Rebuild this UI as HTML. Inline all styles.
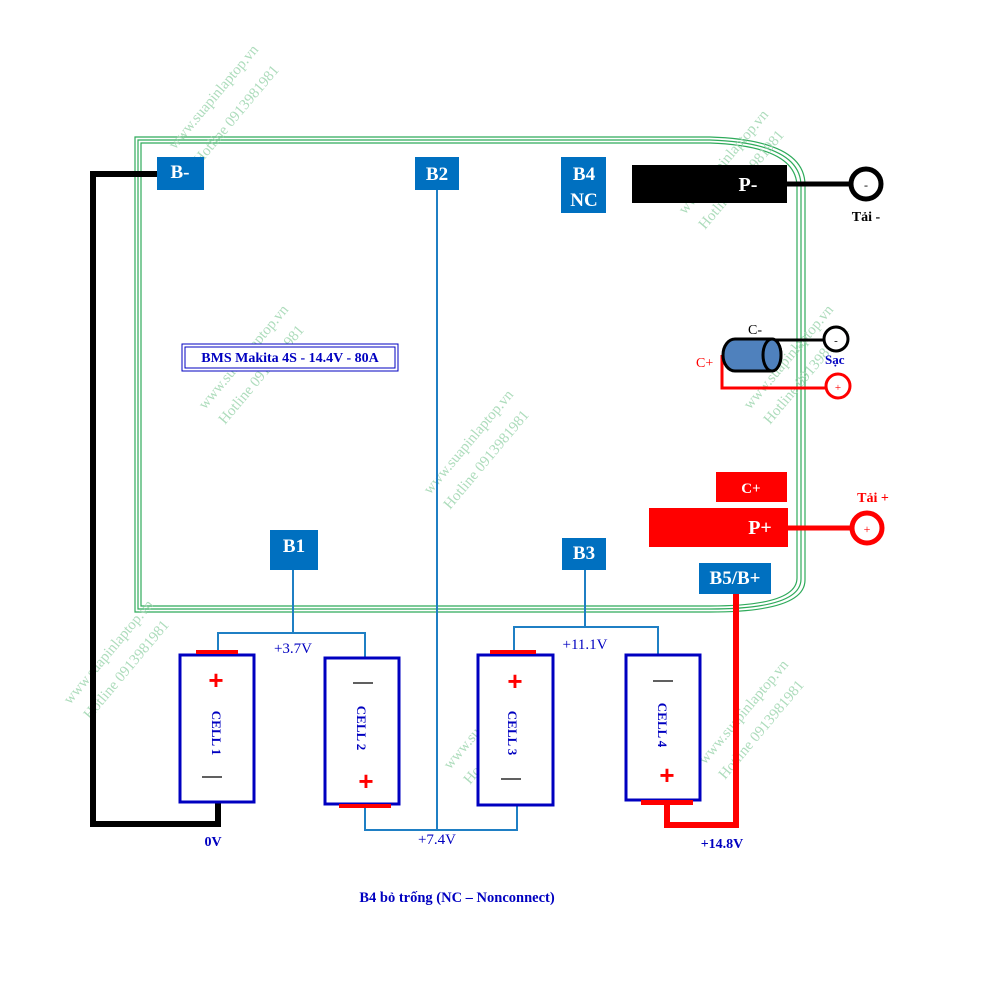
<!DOCTYPE html>
<html><head><meta charset="utf-8"><style>body{margin:0;background:#fff}svg{display:block}</style></head><body>
<svg width="1000" height="1000" viewBox="0 0 1000 1000" xmlns="http://www.w3.org/2000/svg" font-family="Liberation Serif, serif">
<rect width="1000" height="1000" fill="#fff"/>
<g fill="none" stroke="#2eaa5a" stroke-width="1.2">
<path d="M135,137 H710 Q805,140 805,185 V580 Q805,612 710,612 H135 Z"/>
<path d="M138,140 H710 Q801,143 801,186 V579 Q801,609 710,609 H138 Z"/>
<path d="M141,143 H710 Q797,146 797,187 V578 Q797,606 710,606 H141 Z"/>
</g>
<g fill="#9fd6b0" font-size="15" opacity="0.85">
<text transform="translate(175,150) rotate(-50)">www.suapinlaptop.vn</text>
<text transform="translate(200,165) rotate(-50)">Hotline 0913981981</text>
<text transform="translate(685,215) rotate(-50)">www.suapinlaptop.vn</text>
<text transform="translate(705,230) rotate(-50)">Hotline 0913981981</text>
<text transform="translate(205,410) rotate(-50)">www.suapinlaptop.vn</text>
<text transform="translate(225,425) rotate(-50)">Hotline 0913981981</text>
<text transform="translate(430,495) rotate(-50)">www.suapinlaptop.vn</text>
<text transform="translate(450,510) rotate(-50)">Hotline 0913981981</text>
<text transform="translate(750,410) rotate(-50)">www.suapinlaptop.vn</text>
<text transform="translate(770,425) rotate(-50)">Hotline 0913981981</text>
<text transform="translate(70,705) rotate(-50)">www.suapinlaptop.vn</text>
<text transform="translate(90,720) rotate(-50)">Hotline 0913981981</text>
<text transform="translate(450,770) rotate(-50)">www.suapinlaptop.vn</text>
<text transform="translate(470,785) rotate(-50)">Hotline 0913981981</text>
<text transform="translate(705,765) rotate(-50)">www.suapinlaptop.vn</text>
<text transform="translate(725,780) rotate(-50)">Hotline 0913981981</text>
</g>
<g stroke="#1f7fc4" stroke-width="2" fill="none">
<path d="M437,190 V830"/>
<path d="M293,570 V633 M218,651 V633 H365 V658"/>
<path d="M365,806 V830 H517 V805"/>
<path d="M585,570 V627 M514,651 V627 H658 V655"/>
</g>
<path d="M157,174 H93 V824 H218 V802" stroke="#000" stroke-width="6" fill="none"/>
<path d="M736,594 V825 H667 V802" stroke="#f00" stroke-width="6" fill="none"/>
<g fill="#0070c0">
<rect x="157" y="157" width="47" height="33"/>
<rect x="415" y="157" width="44" height="33"/>
<rect x="561" y="157" width="45" height="56"/>
<rect x="270" y="530" width="48" height="40"/>
<rect x="562" y="538" width="44" height="32"/>
<rect x="699" y="563" width="72" height="31"/>
</g>
<g fill="#fff" font-weight="bold" font-size="19" text-anchor="middle">
<text x="180" y="178">B-</text>
<text x="437" y="180">B2</text>
<text x="584" y="180">B4</text>
<text x="584" y="206">NC</text>
<text x="294" y="552">B1</text>
<text x="584" y="559">B3</text>
<text x="735" y="584">B5/B+</text>
</g>
<rect x="632" y="165" width="155" height="38" fill="#000"/>
<text x="748" y="191" fill="#fff" font-weight="bold" font-size="20" text-anchor="middle">P-</text>
<path d="M787,184 H851" stroke="#000" stroke-width="5"/>
<circle cx="866" cy="184" r="15" fill="#fff" stroke="#000" stroke-width="5"/>
<text x="866" y="189" font-size="12" text-anchor="middle">-</text>
<text x="866" y="221" font-size="14" font-weight="bold" text-anchor="middle">Tải -</text>
<rect x="182" y="344" width="216" height="27" fill="#fff" stroke="#0000c0" stroke-width="1"/>
<rect x="185" y="347" width="210" height="21" fill="none" stroke="#0000c0" stroke-width="1"/>
<text x="290" y="362" font-size="14" font-weight="bold" fill="#0000c0" text-anchor="middle">BMS Makita 4S - 14.4V - 80A</text>
<path d="M722,355 V388 H826" stroke="#f00" stroke-width="3" fill="none"/>
<path d="M770,340 H826" stroke="#000" stroke-width="3"/>
<path d="M735,339 H772 A9,16 0 0 1 772,371 H735 A12,16 0 0 1 735,339 Z" fill="#4f81bd" stroke="#000" stroke-width="3"/>
<ellipse cx="772" cy="355" rx="9" ry="16" fill="#4f81bd" stroke="#000" stroke-width="3"/>
<circle cx="836" cy="339" r="12" fill="#fff" stroke="#000" stroke-width="3"/>
<text x="836" y="344" font-size="11" text-anchor="middle">-</text>
<circle cx="838" cy="386" r="12" fill="#fff" stroke="#f00" stroke-width="3"/>
<text x="838" y="391" font-size="11" fill="#f00" text-anchor="middle">+</text>
<text x="748" y="334" font-size="14">C-</text>
<text x="696" y="367" font-size="14" fill="#f00">C+</text>
<text x="825" y="364" font-size="13" font-weight="bold" fill="#0000c0">Sạc</text>
<rect x="716" y="472" width="71" height="30" fill="#f00"/>
<text x="751" y="493" fill="#fff" font-weight="bold" font-size="15" text-anchor="middle">C+</text>
<rect x="649" y="508" width="139" height="39" fill="#f00"/>
<text x="760" y="534" fill="#fff" font-weight="bold" font-size="20" text-anchor="middle">P+</text>
<path d="M788,528 H852" stroke="#f00" stroke-width="5"/>
<circle cx="867" cy="528" r="15" fill="#fff" stroke="#f00" stroke-width="5"/>
<text x="867" y="533" font-size="12" fill="#f00" text-anchor="middle">+</text>
<text x="873" y="502" font-size="14" font-weight="bold" fill="#f00" text-anchor="middle">Tải +</text>
<g fill="#fff" stroke="#0000c0" stroke-width="3">
<rect x="180" y="655" width="74" height="147"/>
<rect x="325" y="658" width="74" height="146"/>
<rect x="478" y="655" width="75" height="150"/>
<rect x="626" y="655" width="74" height="145"/>
</g>
<g fill="#f00">
<rect x="196" y="650" width="42" height="4"/>
<rect x="339" y="804" width="52" height="4"/>
<rect x="490" y="650" width="46" height="4"/>
<rect x="641" y="800" width="52" height="5"/>
</g>
<g fill="#f00" font-size="26" font-weight="bold" text-anchor="middle" font-family="Liberation Sans, sans-serif">
<text x="216" y="689">+</text>
<text x="366" y="790">+</text>
<text x="515" y="690">+</text>
<text x="667" y="784">+</text>
</g>
<g stroke="#000" stroke-width="1.2">
<path d="M202,777 H222 M353,683 H373 M501,779 H521 M653,681 H673"/>
</g>
<g fill="#0000c0" font-size="13" font-weight="bold" text-anchor="middle">
<text transform="translate(212,733) rotate(90)">CELL 1</text>
<text transform="translate(357,728) rotate(90)">CELL  2</text>
<text transform="translate(508,733) rotate(90)">CELL 3</text>
<text transform="translate(658,725) rotate(90)">CELL 4</text>
</g>
<g fill="#0000c0" font-size="15" text-anchor="middle">
<text x="293" y="653">+3.7V</text>
<text x="585" y="649">+11.1V</text>
<text x="437" y="844">+7.4V</text>
<text x="213" y="846" font-weight="bold" font-size="14">0V</text>
<text x="722" y="848" font-weight="bold" font-size="14">+14.8V</text>
<text x="457" y="902" font-weight="bold" font-size="14.5">B4 bỏ trống (NC – Nonconnect)</text>
</g>
</svg>
</body></html>
